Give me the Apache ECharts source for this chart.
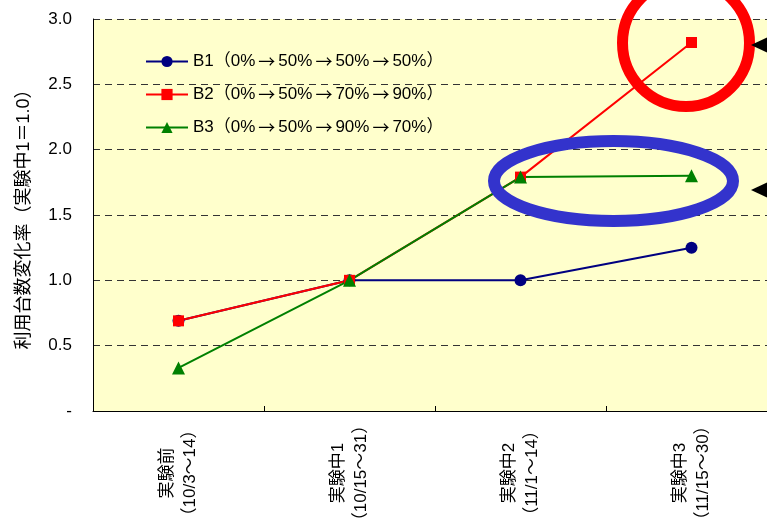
<!DOCTYPE html>
<html>
<head>
<meta charset="utf-8">
<script src="https://cdn.jsdelivr.net/npm/echarts@6/dist/echarts.min.js"></script>
<style>
  html, body { margin: 0; padding: 0; background: #fff; }
  #chart { width: 767px; height: 526px; }
</style>
</head>
<body>
<div id="chart"></div>
<script>
// Periods of the experiment (x axis)
const categories = [
  '実験前\n（10/3～14）',
  '実験中1\n（10/15～31）',
  '実験中2\n（11/1～14）',
  '実験中3\n（11/15～30）'
];

// Change rate of usage count (実験中1 = 1.0)
const seriesNames = [
  'B1（0%→50%→50%→50%）',
  'B2（0%→50%→70%→90%）',
  'B3（0%→50%→90%→70%）'
];
const b1Values = [0.69, 1.0, 1.0, 1.25];
const b2Values = [0.69, 1.0, 1.79, 2.82];
const b3Values = [0.33, 1.0, 1.79, 1.80];

const yTickLabels = { '0': '-', '0.5': '0.5', '1': '1.0', '1.5': '1.5', '2': '2.0', '2.5': '2.5', '3': '3.0' };

const fontMixed = '"Liberation Sans", Arial, "Noto Sans CJK JP", sans-serif';
const fontCJK = '"Noto Sans CJK JP", sans-serif';

const chart = echarts.init(document.getElementById('chart'));

chart.setOption({
  animation: false,
  backgroundColor: '#ffffff',
  grid: {
    left: 93, right: -10, top: 19, bottom: 115,
    containLabel: false,
    outerBoundsMode: 'none',
    show: true, backgroundColor: '#FFFFCC', borderWidth: 0
  },
  legend: {
    orient: 'vertical',
    left: 145, top: 53,
    padding: 0,
    itemGap: 16,
    itemWidth: 42, itemHeight: 14,
    textStyle: {
      fontFamily: fontMixed, fontSize: 17, color: '#000',
      rich: {
        arrow: { fontFamily: fontCJK, fontSize: 17, color: '#000', padding: [0, 3, 0, 3] }
      }
    },
    formatter: name => name.replace(/→/g, '{arrow|→}'),
    data: seriesNames
  },
  xAxis: {
    type: 'category',
    data: categories,
    boundaryGap: true,
    axisLine: { lineStyle: { color: '#000', width: 1 } },
    axisTick: { show: true, inside: true, length: 5, lineStyle: { color: '#000' } },
    axisLabel: {
      rotate: 90, interval: 0, margin: 62,
      fontFamily: fontMixed, fontSize: 17, color: '#000', lineHeight: 23,
      align: 'center', verticalAlign: 'middle'
    }
  },
  yAxis: {
    type: 'value',
    min: 0, max: 3, interval: 0.5,
    name: '利用台数変化率（実験中1＝1.0）',
    nameLocation: 'middle',
    nameGap: 60,
    nameTextStyle: { fontFamily: fontMixed, fontSize: 18, color: '#000' },
    axisLine: { show: true, lineStyle: { color: '#000', width: 1 } },
    axisTick: { show: false },
    axisLabel: {
      margin: 21,
      fontFamily: fontMixed, fontSize: 17, color: '#000',
      formatter: v => yTickLabels[String(v)] !== undefined ? yTickLabels[String(v)] : v.toFixed(1)
    },
    splitLine: { show: true, lineStyle: { color: '#333', type: [7, 5], width: 1 } }
  },
  series: [
    {
      name: seriesNames[0], type: 'line', data: b1Values,
      symbol: 'circle', symbolSize: 12,
      lineStyle: { color: '#000080', width: 2 },
      itemStyle: { color: '#000080' }
    },
    {
      name: seriesNames[1], type: 'line', data: b2Values,
      symbol: 'rect', symbolSize: 11,
      lineStyle: { color: '#FF0000', width: 2 },
      itemStyle: { color: '#FF0000' }
    },
    {
      name: seriesNames[2], type: 'line', data: b3Values,
      symbol: 'triangle', symbolSize: 13,
      lineStyle: { color: '#008000', width: 2 },
      itemStyle: { color: '#008000' }
    }
  ]
});

// Highlight marks drawn over the plot
chart.setOption({
  graphic: [
    {
      type: 'circle', z: 100,
      shape: { cx: 686, cy: 43, r: 63.5 },
      style: { fill: 'none', stroke: '#FF0000', lineWidth: 11 }
    },
    {
      type: 'ellipse', z: 100,
      shape: { cx: 613.5, cy: 181, rx: 119.5, ry: 40 },
      style: { fill: 'none', stroke: '#3333CC', lineWidth: 12 }
    },
    {
      type: 'polygon', z: 100,
      shape: { points: [[751, 45], [770, 36], [770, 54]] },
      style: { fill: '#000' }
    },
    {
      type: 'polygon', z: 100,
      shape: { points: [[751, 190], [770, 181], [770, 199]] },
      style: { fill: '#000' }
    }
  ]
});
</script>
</body>
</html>
